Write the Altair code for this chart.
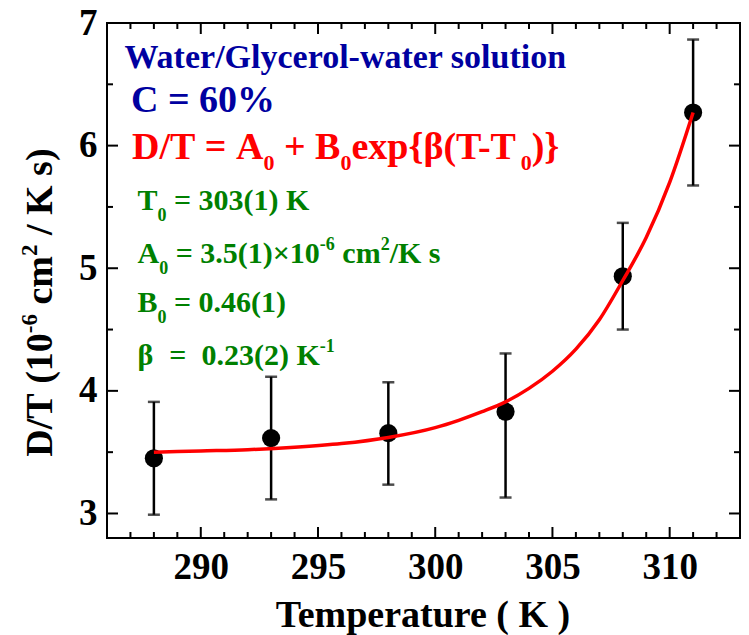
import altair as alt
import pandas as pd

# Measured D/T values (10^-6 cm^2 / K s) with error-bar limits
temps = [288, 293, 298, 303, 308, 311]
dt_vals = [3.45, 3.615, 3.655, 3.83, 4.935, 6.27]
dt_low = [2.99, 3.115, 3.235, 3.13, 4.50, 5.675]
dt_high = [3.91, 4.115, 4.07, 4.305, 5.37, 6.865]

# Fitted curve D/T = A0 + B0 exp{beta (T - T0)}
fit_T = [288, 290, 292, 294, 296, 298, 300, 301, 302, 303, 304, 305, 306, 307, 308, 309, 310, 311]
fit_DT = [3.50, 3.51, 3.52, 3.54, 3.57, 3.62, 3.70, 3.76, 3.83, 3.91, 4.02, 4.16,
          4.34, 4.58, 4.90, 5.25, 5.70, 6.27]

# Axis ticks
x_major = [290, 295, 300, 305, 310]
x_minor = [t for t in range(286, 314) if t not in x_major]
y_major = [3, 4, 5, 6, 7]
y_minor = [3.5, 4.5, 5.5, 6.5]

FONT = "Liberation Serif"
W, H = 633, 515
BLUE, RED, GREEN = "#0000A0", "#FF0000", "#008000"

# Advance widths (em) of the bold serif face, used to place sub/superscripts
GLYPH_W = {
    " ": .25, "%": 1.0, "(": .333, ")": .333, "+": .570, "-": .333, ".": .25,
    "/": .278, "=": .570, "A": .722, "B": .667, "C": .722, "D": .722, "G": .778,
    "K": .778, "T": .667, "W": 1.0, "a": .5, "c": .444, "e": .444, "i": .278,
    "l": .278, "m": .833, "n": .556, "o": .5, "p": .556, "r": .444, "s": .389,
    "t": .333, "u": .556, "w": .722, "x": .5, "y": .5, "{": .394, "}": .394,
    "\u00d7": .570, "\u03b2": .56,
}


def text_mark(s, size, x, y, color, angle=0):
    kw = dict(text=s, fontSize=size, font=FONT, fontWeight="bold", color=color,
              align="left", baseline="alphabetic")
    if angle:
        kw["angle"] = angle
    return alt.Chart(alt.Data(values=[{"k": 0}])).mark_text(**kw).encode(
        x=alt.value(x), y=alt.value(y))


def rich_text(x0, y0, runs, color, vertical=False):
    """runs: (text, font size, baseline shift; + is down / subscript)."""
    marks, pos = [], 0.0
    for text, size, shift in runs:
        for i, piece in enumerate(text.split(" ")):
            if i > 0:
                pos += GLYPH_W[" "] * size
            if piece:
                if vertical:
                    marks.append(text_mark(piece, size, x0 + shift, y0 - pos, color, 270))
                else:
                    marks.append(text_mark(piece, size, x0 + pos, y0 + shift, color))
                pos += sum(GLYPH_W.get(c, .5) for c in piece) * size
    return marks


points = pd.DataFrame({"T": temps, "v": dt_vals, "lo": dt_low, "hi": dt_high})
fit = pd.DataFrame({"T": fit_T, "v": fit_DT})

xs = alt.Scale(domain=[286, 313], nice=False, zero=False)
ys = alt.Scale(domain=[2.8, 7.0], nice=False, zero=False)
x_axis = alt.Axis(values=x_major, ticks=False, tickSize=0, domain=False, grid=False,
                  labelFontSize=37, labelPadding=11, labelFlush=False, title=None)
y_axis = alt.Axis(values=y_major, ticks=False, tickSize=0, domain=False, grid=False,
                  labelFontSize=37, labelPadding=10, labelFlush=False, title=None)
X = alt.X("T:Q", scale=xs, axis=x_axis)
Y = alt.Y("v:Q", scale=ys, axis=y_axis)
Ylo = alt.Y("lo:Q", scale=ys, axis=y_axis)


def xticks(vals, y_from, y_to):
    return alt.Chart(pd.DataFrame({"T": vals})).mark_rule(color="black", strokeWidth=2).encode(
        x=X, y=alt.value(y_from), y2=alt.value(y_to))


def yticks(vals, x_from, x_to):
    return alt.Chart(pd.DataFrame({"v": vals})).mark_rule(color="black", strokeWidth=2).encode(
        y=Y, x=alt.value(x_from), x2=alt.value(x_to))


MAJ, MIN = 11, 6
ticks = [
    xticks(x_major, H, H - MAJ), xticks(x_minor, H, H - MIN),
    xticks(x_major, 0, MAJ), xticks(x_minor, 0, MIN),
    yticks(y_major, 0, MAJ), yticks(y_minor, 0, MIN),
    yticks(y_major, W, W - MAJ), yticks(y_minor, W, W - MIN),
]

base = alt.Chart(points)
err = base.mark_rule(color="black", strokeWidth=2.5).encode(x=X, y=Ylo, y2="hi:Q")
cap_lo = base.mark_tick(color="black", orient="horizontal", size=12, thickness=2.5).encode(
    x=X, y=Ylo)
cap_hi = base.mark_tick(color="black", orient="horizontal", size=12, thickness=2.5).encode(
    x=X, y=alt.Y("hi:Q", scale=ys, axis=y_axis))
dots = base.mark_circle(color="black", size=330, opacity=1).encode(x=X, y=Y)
curve = alt.Chart(fit).mark_line(color=RED, strokeWidth=3.5, interpolate="monotone").encode(
    x=X, y=Y)

SUB, SUP = 11, -13
texts = []
texts += [text_mark("Water/Glycerol-water solution", 34, 17.5, 45.3, BLUE)]
texts += rich_text(24, 88.7, [("C = 60%", 38, 0)], BLUE)
texts += rich_text(25, 136.3, [("D/T = A", 38, 0), ("0", 22, 10.5), (" + B", 38, 0),
                               ("0", 22, 10.5), ("exp{\u03b2(T-T", 38, 0), ("0", 22, 10.5),
                               (")}", 38, 0)], RED)
texts += rich_text(30.5, 187, [("T", 30, 0), ("0", 18, SUB), (" = 303(1) K", 30, 0)], GREEN)
texts += rich_text(30.5, 240.3, [("A", 30, 0), ("0", 18, SUB), (" = 3.5(1)\u00d710", 30, 0),
                                 ("-6", 18, SUP), (" cm", 30, 0), ("2", 18, SUP),
                                 ("/K s", 30, 0)], GREEN)
texts += rich_text(30.5, 288.7, [("B", 30, 0), ("0", 18, SUB), (" = 0.46(1)", 30, 0)], GREEN)
texts += rich_text(30.5, 342, [("\u03b2  =  0.23(2) K", 30, 0), ("-1", 18, SUP)], GREEN)

# Axis titles
texts += rich_text(-55, 433.7, [("D/T (10", 38, 0), ("-6", 23, -15), (" cm", 38, 0),
                                ("2", 23, -15), (" / K s)", 38, 0)], "black", vertical=True)
texts += [alt.Chart(alt.Data(values=[{"k": 0}])).mark_text(
    text="Temperature ( K )", fontSize=38, font=FONT, fontWeight="bold", color="black",
    align="center", baseline="alphabetic").encode(x=alt.value(316), y=alt.value(603.7))]

chart = alt.layer(*ticks, err, cap_lo, cap_hi, dots, curve, *texts).properties(
    width=W, height=H,
    padding={"left": 107, "top": 23, "right": 9, "bottom": 97},
    autosize=alt.AutoSizeParams(type="none"),
    background="white",
).configure_view(stroke="black", strokeWidth=2).configure_axis(
    labelFont=FONT, labelFontWeight="bold", labelColor="black")

chart.save("out.html", embed_options={"renderer": "svg", "actions": False})
